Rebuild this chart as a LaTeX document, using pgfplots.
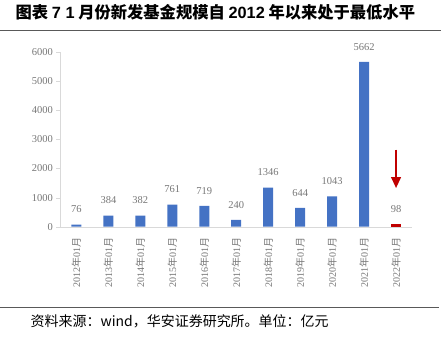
\documentclass[border=0pt]{standalone}
\usepackage{fontspec}
\usepackage{pgfplots}
\pgfplotsset{compat=1.18}
\usetikzlibrary{arrows.meta}
\setmainfont{Liberation Serif}
\newfontfamily\cjk{Noto Sans CJK SC}
\newfontfamily\arial{Liberation Sans}
\definecolor{barblue}{HTML}{4472C4}
\definecolor{barred}{HTML}{C00000}
\definecolor{txtgray}{HTML}{767676}
\definecolor{rulegray}{HTML}{595959}
\newcommand{\lab}[1]{#1{\cjk 年}01{\cjk 月}}
\begin{document}
\begin{tikzpicture}[x=1pt,y=1pt]
\path (0,0) rectangle (445,343);
\node[anchor=west, inner sep=0pt] at (15,331) {\fontsize{16.3}{16.3}\selectfont\cjk\bfseries 图表 {\arial\bfseries 7 1} 月份新发基金规模自 {\arial\bfseries 2012} 年以来处于最低水平};
\draw[rulegray, line width=1pt] (0,312) -- (441,312);
\draw[rulegray, line width=1pt] (0,35) -- (439,35);
\node[anchor=west, inner sep=0pt] at (30,21) {\fontsize{14}{14}\selectfont\cjk 资料来源：wind，华安证券研究所。单位：亿元};
\begin{axis}[
  at={(60pt,116pt)}, anchor=south west, scale only axis,
  width=352pt, height=175pt,
  xmin=-0.5, xmax=10.5, ymin=0, ymax=6000,
  axis x line=bottom, axis y line=left,
  axis line style={-, draw={rgb,255:red,217;green,217;blue,217}},
  xtick={0,...,10},
  xticklabels={\lab{2012},\lab{2013},\lab{2014},\lab{2015},\lab{2016},\lab{2017},\lab{2018},\lab{2019},\lab{2020},\lab{2021},\lab{2022}},
  x tick label style={rotate=90, anchor=east, xshift=-3pt, font=\fontsize{10}{10}\selectfont, color=txtgray},
  xtick style={draw=none},
  ytick={0,1000,...,6000},
  y tick label style={font=\fontsize{10.5}{10.5}\selectfont, color=txtgray},
  ytick style={draw={rgb,255:red,217;green,217;blue,217}},
  tick align=outside, major tick length=4pt,
  scaled y ticks=false,
  /pgf/number format/assume math mode=true,
  /pgf/number format/1000 sep={},
  nodes near coords,
  nodes near coords style={font=\fontsize{10.5}{10.5}\selectfont, color=txtgray, yshift=8pt},
  every node near coord/.append style={/pgf/number format/1000 sep={}},
  clip=false,
]
\addplot[ybar, bar width=10pt, bar shift=0pt, fill=barblue, draw=none] coordinates {
(0,76) (1,384) (2,382) (3,761) (4,719) (5,240) (6,1346) (7,644) (8,1043) (9,5662)};
\addplot[ybar, bar width=10pt, bar shift=0pt, fill=barred, draw=none] coordinates {(10,98)};
\draw[barred, line width=1.2pt, -{Triangle[length=11pt,width=10pt]}] (axis cs:10,2650) -- (axis cs:10,1330);
\end{axis}
\end{tikzpicture}
\end{document}
